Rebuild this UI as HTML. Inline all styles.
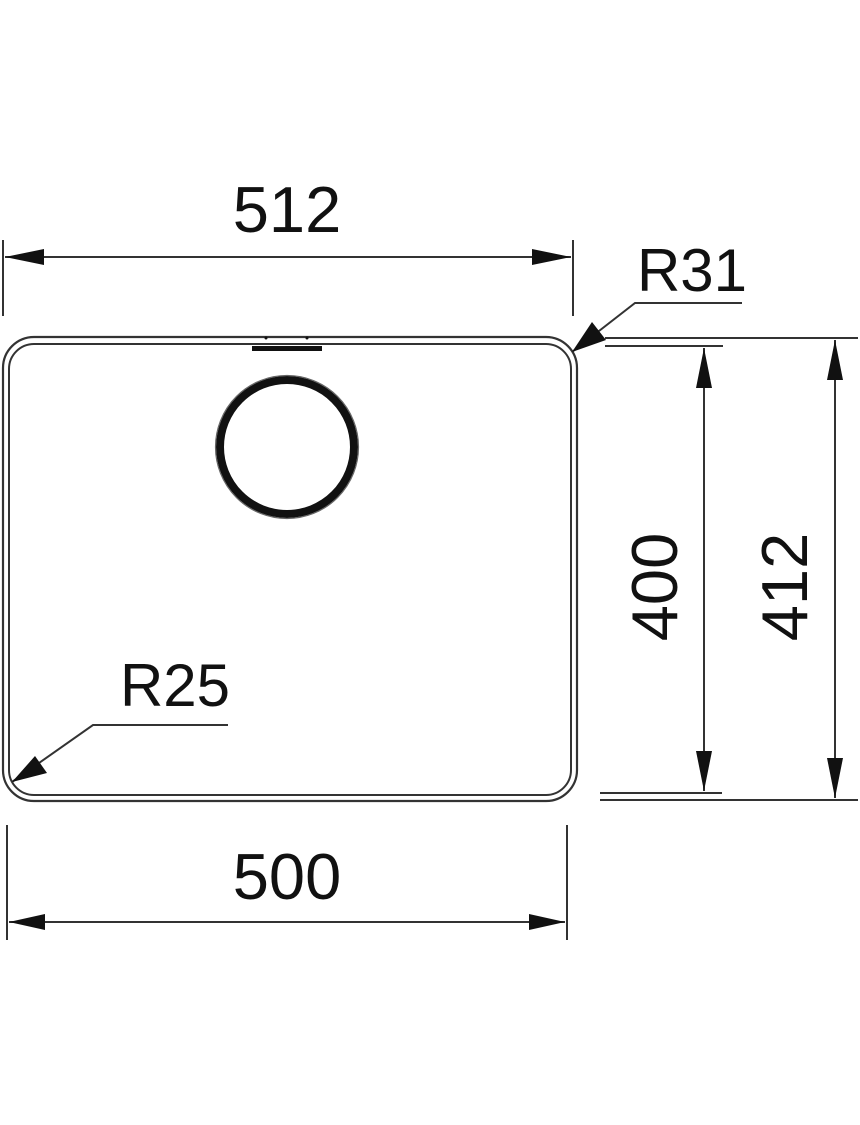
<!DOCTYPE html>
<html><head><meta charset="utf-8"><style>
html,body{margin:0;padding:0;background:#fff}
svg{display:block}
text{font-family:"Liberation Sans",sans-serif;fill:#111}
</style></head><body>
<svg width="860" height="1125" viewBox="0 0 860 1125" xmlns="http://www.w3.org/2000/svg">
<g fill="none" stroke="#333">
<rect x="3" y="337" width="574" height="464" rx="31" stroke-width="2.2"/>
<rect x="9" y="344" width="562" height="451" rx="25" stroke-width="2"/>
<circle cx="287" cy="447" r="67" stroke="#111" stroke-width="8"/>
<circle cx="287" cy="447" r="71.5" stroke="#666" stroke-width="1.2"/>
<line x1="3" y1="240" x2="3" y2="316" stroke-width="2"/>
<line x1="573" y1="240" x2="573" y2="316" stroke-width="2"/>
<line x1="5" y1="257" x2="571" y2="257" stroke-width="2"/>
<line x1="7" y1="825" x2="7" y2="940" stroke-width="2"/>
<line x1="567" y1="825" x2="567" y2="940" stroke-width="2"/>
<line x1="9" y1="922" x2="565" y2="922" stroke-width="2"/>
<line x1="605" y1="338" x2="858" y2="338" stroke-width="2"/>
<line x1="605" y1="346" x2="723" y2="346" stroke-width="2"/>
<line x1="600" y1="793" x2="722" y2="793" stroke-width="2"/>
<line x1="600" y1="800" x2="858" y2="800" stroke-width="2"/>
<line x1="704" y1="348" x2="704" y2="791" stroke-width="2"/>
<line x1="835" y1="340" x2="835" y2="798" stroke-width="2"/>
<polyline points="742,303 635,303 572,352" stroke-width="2"/>
<polyline points="228,725 93,725 12,782" stroke-width="2"/>
</g>
<rect x="252" y="346" width="70" height="5" fill="#111"/>
<circle cx="266" cy="338" r="1.5" fill="#111"/><circle cx="307" cy="338" r="1.5" fill="#111"/>
<g fill="#111">
<polygon points="5,257 44,249 44,265"/>
<polygon points="571,257 532,249 532,265"/>
<polygon points="9,922 45,914 45,930"/>
<polygon points="565,922 529,914 529,930"/>
<polygon points="704,348 696,388 712,388"/>
<polygon points="704,791 696,751 712,751"/>
<polygon points="835,340 827,380 843,380"/>
<polygon points="835,798 827,758 843,758"/>
<polygon points="572,352 592,322 606,340"/>
<polygon points="12,782 35,756 47,773"/>
</g>
<text x="287" y="232" font-size="65" text-anchor="middle">512</text>
<text x="692" y="291" font-size="60" text-anchor="middle">R31</text>
<text x="175" y="706" font-size="60" text-anchor="middle">R25</text>
<text x="287" y="899" font-size="65" text-anchor="middle">500</text>
<text transform="translate(677,587) rotate(-90)" font-size="65" text-anchor="middle">400</text>
<text transform="translate(807,587) rotate(-90)" font-size="65" text-anchor="middle">412</text>
</svg>
</body></html>
